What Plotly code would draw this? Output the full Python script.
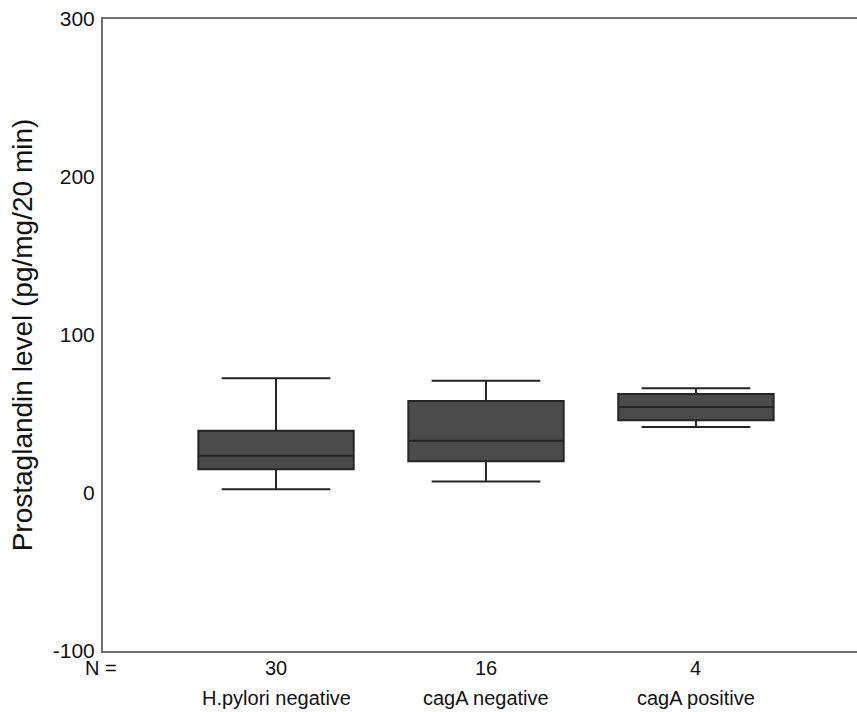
import plotly.graph_objects as go

categories = ["H.pylori negative", "cagA negative", "cagA positive"]
n_values = ["30", "16", "4"]
lower_whisker = [2.3, 7.2, 41.8]
q1_values = [15.0, 20.1, 46.0]
median_values = [23.6, 33.1, 54.4]
q3_values = [39.4, 58.2, 62.7]
upper_whisker = [72.6, 71.1, 66.3]
y_ticks = [-100, 0, 100, 200, 300]

FONT = "Liberation Sans, Arial, sans-serif"

fig = go.Figure()
fig.add_trace(go.Box(
    x=categories,
    q1=q1_values,
    median=median_values,
    q3=q3_values,
    lowerfence=lower_whisker,
    upperfence=upper_whisker,
    fillcolor="#4b4b4b",
    line=dict(color="#252525", width=2),
    width=0.74,
    whiskerwidth=0.70,
    boxpoints=False,
    showlegend=False,
    hoverinfo="skip",
))

annotations = [dict(text="N =", xref="paper", yref="paper", x=0, y=0,
                    xanchor="center", yanchor="middle", yshift=-17, xshift=-2,
                    showarrow=False, font=dict(family=FONT, size=20, color="#111"))]
for cat, n in zip(categories, n_values):
    annotations.append(dict(text=n, xref="x", yref="paper", x=cat, y=0,
                            xanchor="center", yanchor="middle", yshift=-17,
                            showarrow=False, font=dict(family=FONT, size=20, color="#111")))
    annotations.append(dict(text=cat, xref="x", yref="paper", x=cat, y=0,
                            xanchor="center", yanchor="middle", yshift=-47,
                            showarrow=False, font=dict(family=FONT, size=20, color="#111")))

fig.update_layout(
    width=857, height=712,
    margin=dict(l=103, r=0, t=19, b=61),
    paper_bgcolor="white", plot_bgcolor="white",
    font=dict(family=FONT, size=20, color="#111"),
    annotations=annotations,
    xaxis=dict(
        type="category",
        range=[-0.824, 2.767],
        showticklabels=False,
        ticks="",
        showgrid=False, zeroline=False,
        showline=True, linecolor="#6e6e6e", linewidth=2, mirror=True,
    ),
    yaxis=dict(
        range=[-100, 300],
        tickvals=y_ticks,
        ticktext=[str(v) for v in y_ticks],
        ticks="", ticklabelstandoff=2,
        showgrid=False, zeroline=False,
        showline=True, linecolor="#6e6e6e", linewidth=2,
        title=dict(text="Prostaglandin level (pg/mg/20 min)",
                   font=dict(family=FONT, size=28, color="#111"), standoff=12),
        tickfont=dict(family=FONT, size=21, color="#111"),
    ),
)

fig.write_html("out.html",
               config={"displayModeBar": False},
               post_script="document.body.style.margin='0px';document.body.style.overflow='hidden';")
